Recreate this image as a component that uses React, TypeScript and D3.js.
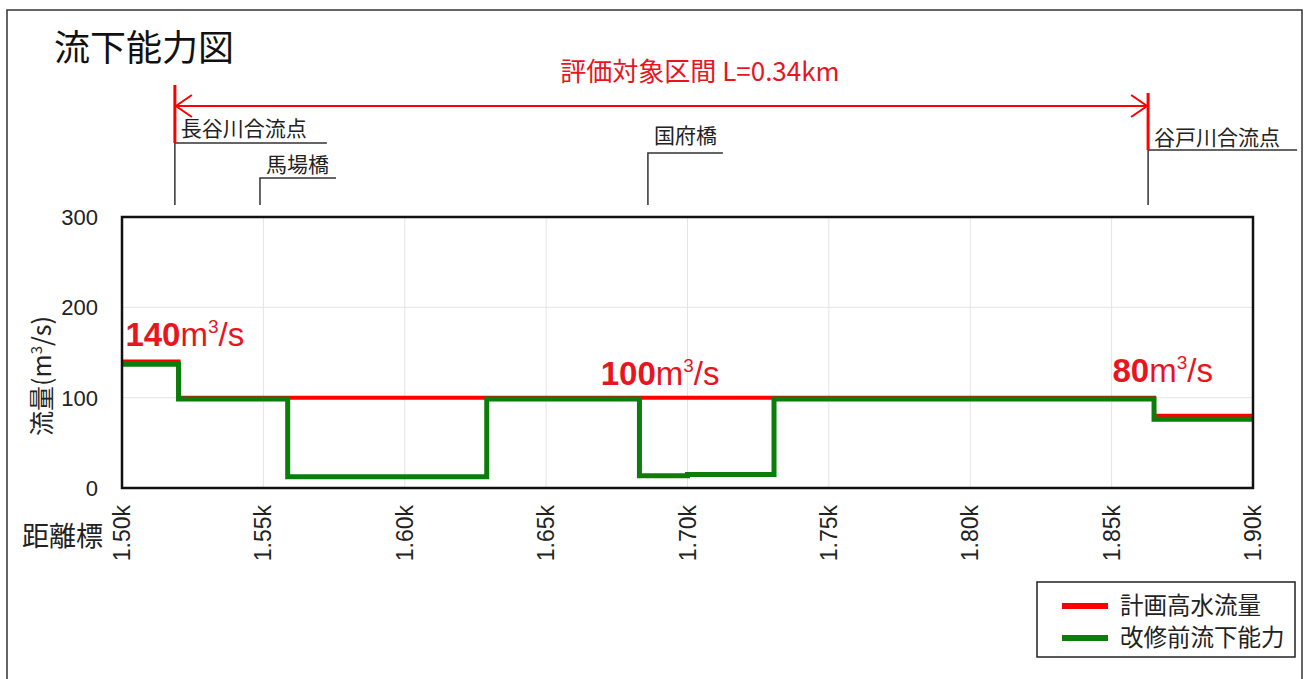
import React from "react";
import * as d3 from "d3";

// distance marker (km) and flow (m3/s) break points, step-after
const planKm = [1.5, 1.52, 1.865, 1.9];
const planQ = [140, 100, 80, 80];
const capKm = [1.5, 1.52, 1.5586, 1.629, 1.683, 1.7, 1.7306, 1.865, 1.9];
const capQ = [137, 98.5, 12.5, 98.5, 13.5, 15, 98.5, 76, 76];

const xTicks = [1.5, 1.55, 1.6, 1.65, 1.7, 1.75, 1.8, 1.85, 1.9];
const yTicks = [0, 100, 200, 300];

const stationNames = ["長谷川合流点", "馬場橋", "国府橋", "谷戸川合流点"];
const stationKm = [1.5187, 1.5488, 1.686, 1.8629];

const flowLabels = ["140", "100", "80"];
const flowLabelKm = [1.5012, 1.6693, 1.8503];
const flowLabelQ = [157, 114, 117];

const sectionLabel = "評価対象区間 L=0.34km";
const legendNames = ["計画高水流量", "改修前流下能力"];

const JP = "'Noto Sans CJK JP', 'Noto Sans', sans-serif";
const NUM = "'Liberation Sans', Arial, sans-serif";
const RED = "#ff0000";
const GREEN = "#0a7d0a";

export default function App() {
  const W = 1308;
  const H = 679;
  const x = d3.scaleLinear().domain([1.5, 1.9]).range([122, 1253]);
  const y = d3.scaleLinear().domain([0, 300]).range([488, 217]);

  const pathOf = (km: number[], q: number[]) =>
    d3
      .line<number>()
      .x((d) => x(d))
      .y((_, i) => y(q[i]))
      .curve(d3.curveStepAfter)(km) || "";

  // leader-line layout per station
  const leader = [
    { base: 136, hy: 143, len: 152 },
    { base: 172, hy: 178, len: 76 },
    { base: 143, hy: 153, len: 75 },
    { base: 145, hy: 150, len: 149 },
  ];

  const xl = x(stationKm[0]);
  const xr = x(stationKm[3]);
  const ay = 106;

  return (
    <svg
      width={W}
      height={H}
      style={{ position: "absolute", left: 0, top: 0, background: "#fff" }}
    >
      <rect x={7} y={10} width={1295} height={700} fill="#fff" stroke="#333" strokeWidth={1.5} />

      <text x={54} y={61} fontFamily={JP} fontSize={36} fill="#111">
        流下能力図
      </text>

      {/* evaluation section arrow */}
      <text x={700} y={81} textAnchor="middle" fontFamily={JP} fontSize={26} fill="#e8141e">
        {sectionLabel}
      </text>
      <line x1={xl} x2={xr} y1={ay} y2={ay} stroke={RED} strokeWidth={2} />
      <path
        d={`M${xl + 17},${ay - 11}L${xl + 1},${ay}L${xl + 17},${ay + 11}`}
        fill="none"
        stroke={RED}
        strokeWidth={2}
      />
      <path
        d={`M${xr - 17},${ay - 11}L${xr - 1},${ay}L${xr - 17},${ay + 11}`}
        fill="none"
        stroke={RED}
        strokeWidth={2}
      />

      {/* station leader lines */}
      {stationNames.map((name, i) => {
        const sx = x(stationKm[i]);
        const l = leader[i];
        return (
          <g key={name}>
            <path
              d={`M${sx + l.len},${l.hy}H${sx}V205`}
              fill="none"
              stroke="#333"
              strokeWidth={1.5}
            />
            <text x={sx + 6} y={l.base} fontFamily={JP} fontSize={21} fill="#222">
              {name}
            </text>
          </g>
        );
      })}
      <line x1={xl} x2={xl} y1={85} y2={143} stroke={RED} strokeWidth={3} />
      <line x1={xr} x2={xr} y1={93} y2={150} stroke={RED} strokeWidth={3} />

      {/* grid */}
      {xTicks.slice(1, -1).map((t) => (
        <line key={t} x1={x(t)} x2={x(t)} y1={217} y2={488} stroke="#e4e4e4" strokeWidth={1} />
      ))}
      {yTicks.slice(1, -1).map((t) => (
        <line key={t} x1={122} x2={1253} y1={y(t)} y2={y(t)} stroke="#e4e4e4" strokeWidth={1} />
      ))}

      {/* series */}
      <path d={pathOf(planKm, planQ)} fill="none" stroke={RED} strokeWidth={4} />
      <path d={pathOf(capKm, capQ)} fill="none" stroke={GREEN} strokeWidth={5} />

      <rect x={122} y={217} width={1131} height={271} fill="none" stroke="#111" strokeWidth={2.5} />

      {/* y axis */}
      {yTicks.map((t) => (
        <text
          key={t}
          x={98}
          y={y(t)}
          dy="0.36em"
          textAnchor="end"
          fontFamily={NUM}
          fontSize={22}
          fill="#222"
        >
          {t}
        </text>
      ))}
      <text
        transform="translate(51,376) rotate(-90)"
        textAnchor="middle"
        fontFamily={JP}
        fontSize={25}
        fill="#222"
      >
        流量(m<tspan dy={-9} fontSize={15}>3</tspan>
        <tspan dy={9}>/s)</tspan>
      </text>

      {/* x axis */}
      {xTicks.map((t) => (
        <text
          key={t}
          transform={`translate(${x(t) + 8},505) rotate(-90)`}
          textAnchor="end"
          fontFamily={NUM}
          fontSize={23}
          fill="#222"
        >
          {t.toFixed(2)}k
        </text>
      ))}
      <text x={22} y={546} fontFamily={JP} fontSize={27} fill="#222">
        距離標
      </text>

      {/* flow labels */}
      {flowLabels.map((v, i) => (
        <text
          key={v}
          x={x(flowLabelKm[i])}
          y={y(flowLabelQ[i])}
          fontFamily={NUM}
          fontSize={33}
          fill="#e8141e"
        >
          <tspan fontWeight="bold">{v}</tspan>
          <tspan>m</tspan>
          <tspan dy={-13} fontSize={19}>3</tspan>
          <tspan dy={13}>/s</tspan>
        </text>
      ))}

      {/* legend */}
      <rect x={1037} y={582} width={258} height={75} fill="#fff" stroke="#222" strokeWidth={1.5} />
      {legendNames.map((n, i) => (
        <g key={n}>
          <line
            x1={1062}
            x2={1108}
            y1={606 + i * 32}
            y2={606 + i * 32}
            stroke={i === 0 ? RED : GREEN}
            strokeWidth={6}
          />
          <text x={1120} y={606 + i * 32} dy="0.36em" fontFamily={JP} fontSize={23.5} fill="#222">
            {n}
          </text>
        </g>
      ))}
    </svg>
  );
}
